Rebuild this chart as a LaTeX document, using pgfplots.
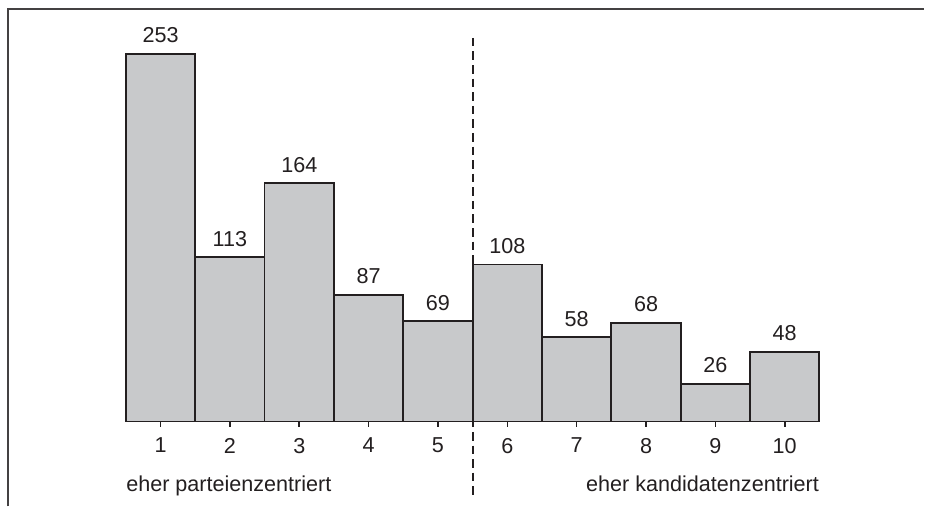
\documentclass[border=0pt]{standalone}
\usepackage{fontspec}
\setmainfont{Liberation Sans}
\usepackage{pgfplots}
\pgfplotsset{compat=1.18}
\definecolor{barfill}{HTML}{C8C9CB}
\definecolor{ink}{HTML}{231F20}
\begin{document}
\begin{tikzpicture}
\begin{axis}[
  scale only axis,
  width=347pt, height=192pt,
  xmin=0.5, xmax=10.5, ymin=0, ymax=264,
  ybar, bar width=1,
  axis y line=none,
  axis x line=bottom,
  x axis line style={-, draw=ink, line width=0.9pt},
  xtick={1,...,10},
  xtick style={draw=ink, line width=0.8pt},
  tick align=outside,
  major tick length=2.6pt,
  xticklabel style={anchor=north, inner sep=0pt, yshift=-5.5pt, font=\fontsize{10.8}{12}\selectfont, text=ink},
  /pgf/number format/assume math mode=true,
  nodes near coords,
  every node near coord/.append style={anchor=south, inner sep=0pt, yshift=5pt, font=\fontsize{10.8}{12}\selectfont, text=ink},
  clip=false,
]
\addplot[fill=barfill, draw=ink, line width=0.9pt] coordinates {
 (1,253) (2,113) (3,164) (4,87) (5,69) (6,108) (7,58) (8,68) (9,26) (10,48)};
\draw[ink, line width=1pt, dash pattern=on 4.3pt off 2.5pt] (axis cs:5.5,264) -- (axis cs:5.5,-52);
\node[anchor=base west, inner sep=0pt, font=\fontsize{10.8}{12}\selectfont, text=ink] at (axis cs:0.5,-47.8) {eher parteienzentriert};
\node[anchor=base east, inner sep=0pt, font=\fontsize{10.8}{12}\selectfont, text=ink] at (axis cs:10.5,-47.8) {eher kandidatenzentriert};
\draw[ink!85, line width=0.7pt] (axis cs:-1.2,-58.42) -- (axis cs:-1.2,283.8) -- (axis cs:12.013,283.8);
\path (axis cs:-1.3156,-58.42) rectangle (axis cs:12.013,290.03);
\end{axis}
\end{tikzpicture}
\end{document}
